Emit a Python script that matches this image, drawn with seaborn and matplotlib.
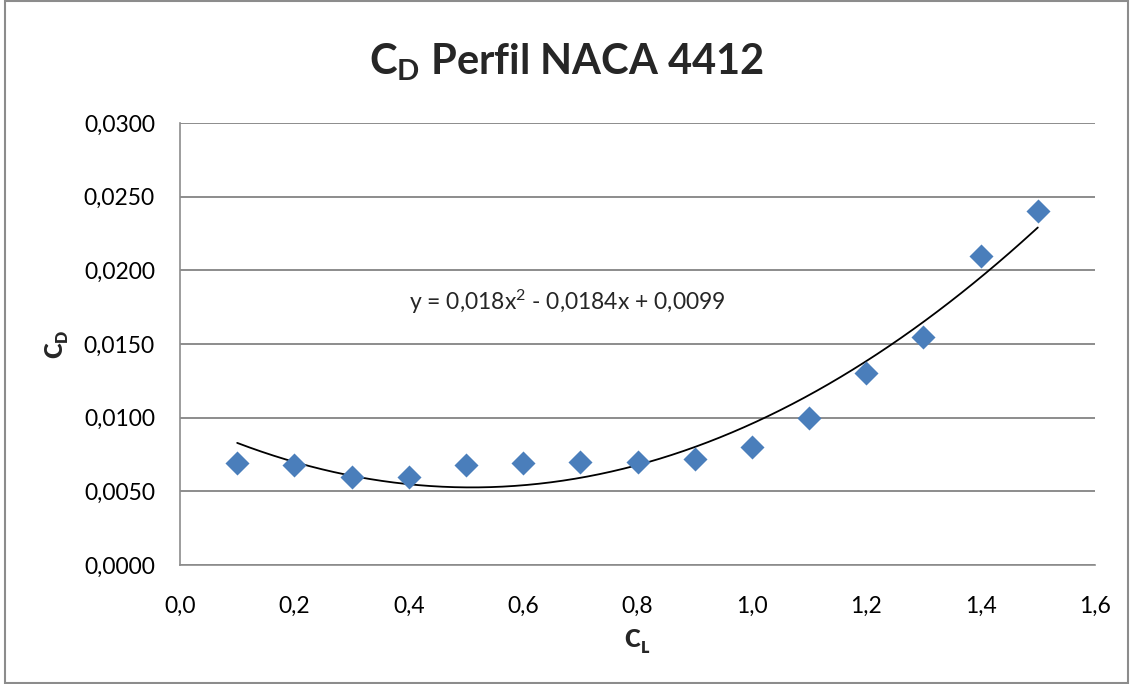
import numpy as np
import pandas as pd
import matplotlib
matplotlib.use("Agg")
import matplotlib.pyplot as plt
import seaborn as sns
from matplotlib.ticker import FuncFormatter

cl = [0.1, 0.2, 0.3, 0.4, 0.5, 0.6, 0.7, 0.8, 0.9, 1.0, 1.1, 1.2, 1.3, 1.4, 1.5]
cd = [0.0069, 0.0068, 0.0060, 0.0060, 0.0068, 0.0069, 0.0070, 0.0070, 0.0072,
      0.0080, 0.0100, 0.0130, 0.0155, 0.0210, 0.0240]
title = "$\\mathbf{C_D}$ Perfil NACA 4412"
equation = "y = 0,018x$^\\mathregular{2}$ - 0,0184x + 0,0099"
x_ticks = [0.0, 0.2, 0.4, 0.6, 0.8, 1.0, 1.2, 1.4, 1.6]
y_ticks = [0.0, 0.005, 0.010, 0.015, 0.020, 0.025, 0.030]

df = pd.DataFrame({"CL": cl, "CD": cd})

sns.set_theme(style="white")
plt.rcParams["font.family"] = ["Lato", "DejaVu Sans"]
plt.rcParams["mathtext.fontset"] = "custom"
plt.rcParams["mathtext.rm"] = "Lato"
plt.rcParams["mathtext.it"] = "Lato:italic"
plt.rcParams["mathtext.bf"] = "Lato:bold"

W, H = 1133, 684
fig = plt.figure(figsize=(W / 100, H / 100), dpi=100)
ax = fig.add_axes([180 / W, 1 - 565 / H, (1095 - 180) / W, (565 - 123) / H])

# trendline (2nd order polynomial fit)
coef = np.polyfit(df["CL"], df["CD"], 2)
xs = np.linspace(min(cl), max(cl), 200)
trend = pd.DataFrame({"CL": xs, "CD": np.polyval(coef, xs)})
sns.lineplot(data=trend, x="CL", y="CD", ax=ax, color="black", linewidth=1.3, zorder=2)

sns.scatterplot(data=df, x="CL", y="CD", ax=ax, marker="D", s=150,
                color="#4a7ebb", edgecolor="#4a7ebb", linewidth=0, zorder=3)

ax.set_xlim(0, 1.6)
ax.set_ylim(0, 0.03)
ax.set_xticks(x_ticks)
ax.set_yticks(y_ticks)
ax.xaxis.set_major_formatter(FuncFormatter(lambda v, p: f"{v:.1f}".replace(".", ",")))
ax.yaxis.set_major_formatter(FuncFormatter(lambda v, p: f"{v:.4f}".replace(".", ",")))
ax.tick_params(axis="both", labelsize=16.5, length=0, colors="black")
ax.tick_params(axis="y", pad=18)
ax.tick_params(axis="x", pad=22)

ax.yaxis.grid(True, color="#8c8c8c", linewidth=1.4)
ax.xaxis.grid(False)
for s in ["top", "right"]:
    ax.spines[s].set_visible(False)
for s in ["left", "bottom"]:
    ax.spines[s].set_color("#8c8c8c")
    ax.spines[s].set_linewidth(1.2)
ax.set_xlabel("")
ax.set_ylabel("")

# axis titles: C with subscript, bold
lab = dict(fontweight="heavy", family=["Lato", "DejaVu Sans"])
fig.text(640 / W, 1 - 647 / H, "C", ha="right", va="baseline", fontsize=17, **lab)
fig.text(641 / W, 1 - 653 / H, "L", ha="left", va="baseline", fontsize=11.5, **lab)
fig.text(55 / W, 1 - 358 / H, "C", ha="center", va="bottom", rotation=90, fontsize=17, **lab)
fig.text(62 / W, 1 - 342 / H, "D", ha="center", va="bottom", rotation=90, fontsize=11.5, **lab)

fig.text(0.5, 1 - 62 / H, title, ha="center", va="center", fontsize=30, fontweight="bold")
ax.text(0.40, 0.01785, equation, ha="left", va="center", fontsize=16.5)

border = plt.Rectangle((5 / W, 0.002), 1 - 10 / W, 0.996, transform=fig.transFigure,
                       fill=False, edgecolor="#8c8c8c", linewidth=1.5)
fig.patches.append(border)

fig.savefig("out.png", dpi=100)
